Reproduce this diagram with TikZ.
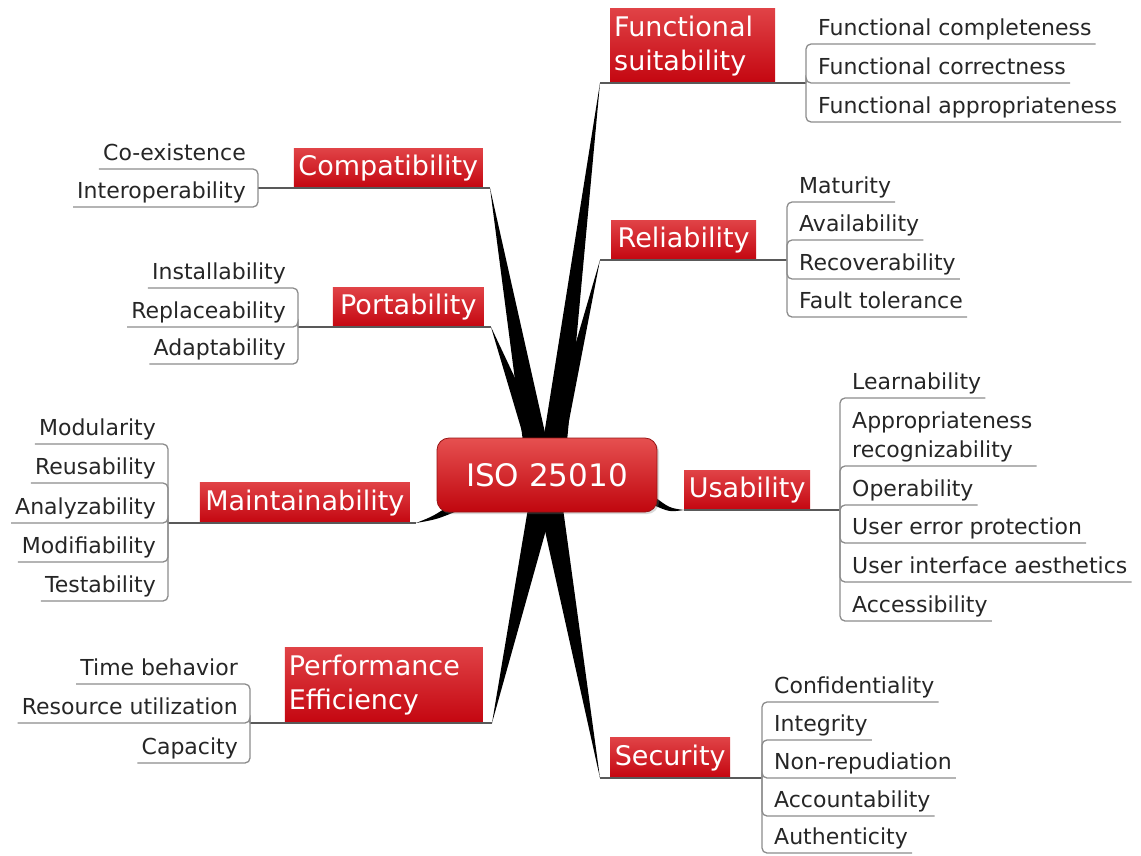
\documentclass[tikz,border=0pt]{standalone}
\usepackage{fontspec}
\setmainfont{DejaVu Sans}
\usetikzlibrary{calc,shadows,backgrounds}
\definecolor{catTop}{RGB}{224,66,70}
\definecolor{catMid}{RGB}{206,16,26}
\definecolor{catBot}{RGB}{196,6,16}
\definecolor{isoTop}{RGB}{230,80,80}
\definecolor{isoBot}{RGB}{192,6,14}
\definecolor{isoEdge}{RGB}{150,20,20}
\begin{document}
\begin{tikzpicture}[x=1pt,y=-1pt,
  cat/.style={top color=catTop, middle color=catMid, bottom color=catBot, text=white,
    font=\fontsize{27}{34}\selectfont, inner xsep=4pt, inner ysep=0pt},
  sub/.style={font=\fontsize{22}{29}\selectfont, text=black!85,
    inner xsep=4pt, inner ysep=0pt, text height=16pt, text depth=8pt},
  main/.style={draw=black!65, line width=1.3pt},
  ul/.style={draw=black!45, line width=1.3pt, rounded corners=5pt},
  wedge/.style={fill=black}]
\useasboundingbox (0,0) rectangle (1141,855);

% central node
\node[draw=isoEdge, line width=0.8pt, rounded corners=12pt, top color=isoTop, bottom color=isoBot,
  minimum width=220, minimum height=74, text=white, font=\fontsize{31}{36}\selectfont,
  drop shadow={opacity=0.3,shadow xshift=2pt,shadow yshift=-2pt}] (iso) at (547,475) {ISO 25010};

% ---------- category boxes ----------
\node[cat, minimum width=165, minimum height=74, text width=157, align=left, anchor=south west] (fs) at (610,83) {Functional\\suitability};
\node[cat, minimum width=145, minimum height=39, anchor=south west] (rl) at (611,260) {Reliability};
\node[cat, minimum width=126, minimum height=39, anchor=south west] (us) at (684,510) {Usability};
\node[cat, minimum width=120, minimum height=40, anchor=south west] (se) at (610,778) {Security};
\node[cat, minimum width=189, minimum height=39, anchor=south east] (cp) at (483,188) {Compatibility};
\node[cat, minimum width=151, minimum height=39, anchor=south east] (pt) at (484,327) {Portability};
\node[cat, minimum width=210, minimum height=40, anchor=south east] (mt) at (410,523) {Maintainability};
\node[cat, minimum width=198, minimum height=75, text width=190, align=left, anchor=south east] (pf) at (483,723) {Performance\\Efficiency};

% ---------- tips and bracket points ----------
\coordinate (fsT) at (600,83);  \coordinate (fsB) at (806,83);
\coordinate (rlT) at (600,260); \coordinate (rlB) at (787,260);
\coordinate (usT) at (684,510); \coordinate (usB) at (840,510);
\coordinate (seT) at (600,778); \coordinate (seB) at (762,778);
\coordinate (cpT) at (490,188); \coordinate (cpB) at (258,188);
\coordinate (ptT) at (491,327); \coordinate (ptB) at (298,327);
\coordinate (mtT) at (416,523); \coordinate (mtB) at (168,523);
\coordinate (pfT) at (492,723); \coordinate (pfB) at (250,723);

% ---------- wedges (behind) ----------
\begin{scope}[on background layer]
\fill[wedge] (fsT) -- ($(iso.north)+(-4,4)$) -- ($(iso.north)+(20,4)$) -- cycle;
\fill[wedge] (rlT) -- ($(iso.north)+(0,4)$) -- ($(iso.north)+(18,4)$) -- cycle;
\fill[wedge] (cpT) -- ($(iso.north)+(-24,4)$) -- ($(iso.north)+(0,4)$) -- cycle;
\fill[wedge] (ptT) -- ($(iso.north)+(-22,4)$) -- ($(iso.north)+(-2,4)$) -- cycle;
\fill[wedge] (pfT) -- ($(iso.south)+(-19,-4)$) -- ($(iso.south)+(5,-4)$) -- cycle;
\fill[wedge] (seT) -- ($(iso.south)+(-7,-4)$) -- ($(iso.south)+(16,-4)$) -- cycle;
\fill[wedge] ($(iso.east)+(-4,21)$) .. controls ($(iso.east)+(12,33)$) .. (usT)
   .. controls ($(iso.east)+(12,37)$) .. ($(iso.east)+(-4,30)$) -- cycle;
\fill[wedge] ($(iso.south west)+(10,-5)$) .. controls ($(iso.south west)+(-4,4)$) .. (mtT)
   .. controls ($(iso.south west)+(0,7)$) .. ($(iso.south west)+(22,-2)$) -- cycle;
\end{scope}

% ---------- sub items ----------
\node[sub, anchor=south west] (fs1) at (814,44) {Functional completeness};
\node[sub, anchor=south west] (fs2) at (814,83) {Functional correctness};
\node[sub, anchor=south west] (fs3) at (814,122) {Functional appropriateness};

\node[sub, anchor=south west] (rl1) at (795,202) {Maturity};
\node[sub, anchor=south west] (rl2) at (795,240) {Availability};
\node[sub, anchor=south west] (rl3) at (795,279) {Recoverability};
\node[sub, anchor=south west] (rl4) at (795,317) {Fault tolerance};

\node[sub, anchor=south west] (us1) at (848,398) {Learnability};
\node[sub, anchor=south west, align=left] (us2) at (848,466) {Appropriateness\\recognizability};
\node[sub, anchor=south west] (us3) at (848,505) {Operability};
\node[sub, anchor=south west] (us4) at (848,543) {User error protection};
\node[sub, anchor=south west] (us5) at (848,582) {User interface aesthetics};
\node[sub, anchor=south west] (us6) at (848,621) {Accessibility};

\node[sub, anchor=south west] (se1) at (770,702) {Confidentiality};
\node[sub, anchor=south west] (se2) at (770,740) {Integrity};
\node[sub, anchor=south west] (se3) at (770,778) {Non-repudiation};
\node[sub, anchor=south west] (se4) at (770,816) {Accountability};
\node[sub, anchor=south west] (se5) at (770,853) {Authenticity};

\node[sub, anchor=south east] (cp1) at (250,169) {Co-existence};
\node[sub, anchor=south east] (cp2) at (250,207) {Interoperability};

\node[sub, anchor=south east] (pt1) at (290,288) {Installability};
\node[sub, anchor=south east] (pt2) at (290,327) {Replaceability};
\node[sub, anchor=south east] (pt3) at (290,364) {Adaptability};

\node[sub, anchor=south east] (mt1) at (160,444) {Modularity};
\node[sub, anchor=south east] (mt2) at (160,483) {Reusability};
\node[sub, anchor=south east] (mt3) at (160,523) {Analyzability};
\node[sub, anchor=south east] (mt4) at (160,562) {Modifiability};
\node[sub, anchor=south east] (mt5) at (160,601) {Testability};

\node[sub, anchor=south east] (pf1) at (242,684) {Time behavior};
\node[sub, anchor=south east] (pf2) at (242,723) {Resource utilization};
\node[sub, anchor=south east] (pf3) at (242,763) {Capacity};

% ---------- main lines ----------
\draw[main] (fsT) -- (fsB);
\draw[main] (rlT) -- (rlB);
\draw[main] (usT) -- (usB);
\draw[main] (seT) -- (seB);
\draw[main] (cpT) -- (cpB);
\draw[main] (ptT) -- (ptB);
\draw[main] (mtT) -- (mtB);
\draw[main] (pfT) -- (pfB);

% ---------- brackets / underlines ----------
\foreach \n in {fs1,fs2,fs3} \draw[ul] (fsB) |- (\n.south east);
\foreach \n in {rl1,rl2,rl3,rl4} \draw[ul] (rlB) |- (\n.south east);
\foreach \n in {us1,us2,us3,us4,us5,us6} \draw[ul] (usB) |- (\n.south east);
\foreach \n in {se1,se2,se3,se4,se5} \draw[ul] (seB) |- (\n.south east);
\foreach \n in {cp1,cp2} \draw[ul] (cpB) |- (\n.south west);
\foreach \n in {pt1,pt2,pt3} \draw[ul] (ptB) |- (\n.south west);
\foreach \n in {mt1,mt2,mt3,mt4,mt5} \draw[ul] (mtB) |- (\n.south west);
\foreach \n in {pf1,pf2,pf3} \draw[ul] (pfB) |- (\n.south west);
\end{tikzpicture}
\end{document}
